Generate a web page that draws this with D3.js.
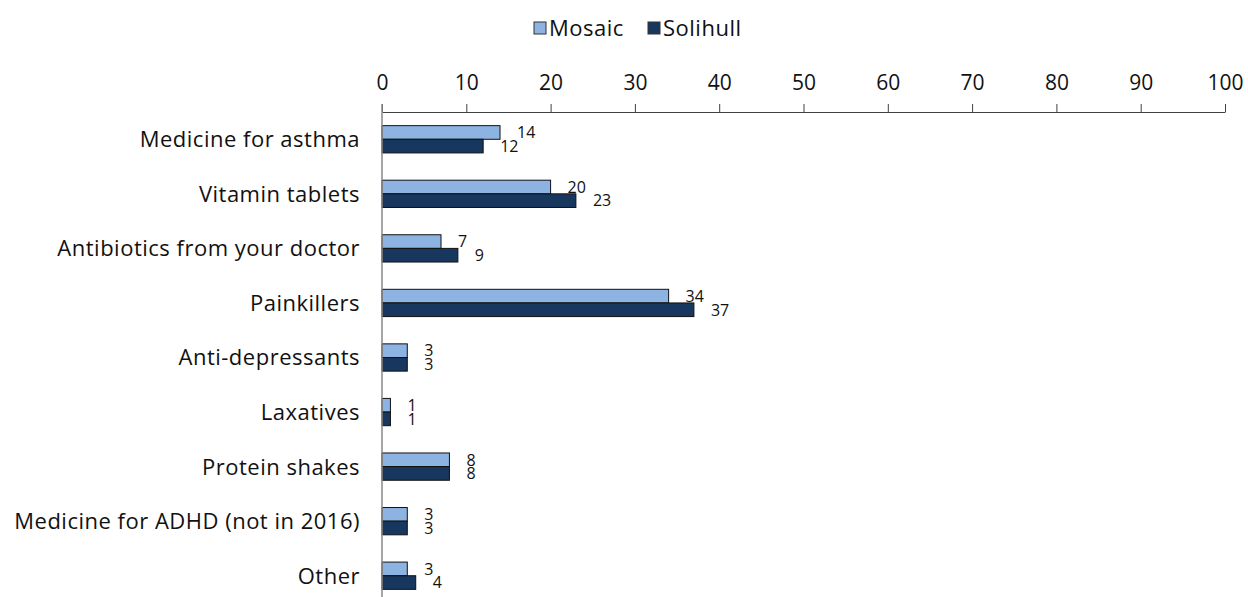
<!DOCTYPE html>
<head>
  <meta charset="utf-8">
  <title>Medicines chart</title>
  <script src="https://d3js.org/d3.v7.min.js"></script>
  <style>
  body { margin: 0; background: #fff; }
  text { font-family: "Open Sans", sans-serif; fill: #111; }
  </style>
</head>
<body>
  <script>
    // Data
    var categories = ["Medicine for asthma", "Vitamin tablets", "Antibiotics from your doctor",
      "Painkillers", "Anti-depressants", "Laxatives", "Protein shakes",
      "Medicine for ADHD (not in 2016)", "Other"];
    var mosaic = [14, 20, 7, 34, 3, 1, 8, 3, 3];
    var solihull = [12, 23, 9, 37, 3, 1, 8, 3, 4];
    var seriesNames = ["Mosaic", "Solihull"];
    var tickValues = [0, 10, 20, 30, 40, 50, 60, 70, 80, 90, 100];

    var colors = ["#8db3e2", "#17375e"];

    var width = 1248, height = 597;
    var svg = d3.select("body").append("svg")
      .attr("width", width)
      .attr("height", height);

    var x = d3.scaleLinear().domain([0, 100]).range([382, 1225]);
    var y = d3.scaleBand().domain(categories).range([112, 603])
      .paddingInner(0.5).paddingOuter(0.25);
    var sub = d3.scaleBand().domain(seriesNames).range([0, y.bandwidth()]);

    var rows = categories.map(function(c, i) {
      return { cat: c, values: [mosaic[i], solihull[i]] };
    });

    // Bars
    var g = svg.selectAll(".row").data(rows).enter().append("g")
      .attr("transform", function(d) { return "translate(0," + y(d.cat) + ")"; });

    g.selectAll("rect")
      .data(function(d) { return d.values.map(function(v, k) { return { v: v, k: k }; }); })
      .enter().append("rect")
      .attr("x", x(0))
      .attr("y", function(d) { return sub(seriesNames[d.k]); })
      .attr("width", function(d) { return x(d.v) - x(0); })
      .attr("height", sub.bandwidth())
      .attr("fill", function(d) { return colors[d.k]; })
      .attr("stroke", "#111")
      .attr("stroke-width", 1);

    // Value labels
    g.selectAll(".val")
      .data(function(d) { return d.values.map(function(v, k) { return { v: v, k: k }; }); })
      .enter().append("text")
      .attr("x", function(d) { return x(d.v) + 17; })
      .attr("y", function(d) { return sub(seriesNames[d.k]) + sub.bandwidth() / 2; })
      .attr("dy", "0.36em")
      .style("font-size", "16px")
      .text(function(d) { return d.v; });

    // Category labels
    svg.selectAll(".cat").data(categories).enter().append("text")
      .attr("x", 360)
      .attr("y", function(d) { return y(d) + y.bandwidth() / 2; })
      .attr("dy", "0.36em")
      .attr("text-anchor", "end")
      .style("font-size", "22px")
      .style("letter-spacing", "0.5px")
      .text(function(d) { return d; });

    // Top axis
    var axis = svg.append("g")
      .attr("transform", "translate(0,112)")
      .call(d3.axisTop(x).tickValues(tickValues).tickSize(8).tickPadding(14).tickSizeOuter(0));
    axis.select(".domain").attr("stroke", "#404040");
    axis.selectAll(".tick line").attr("stroke", "#404040");
    axis.selectAll(".tick text")
      .style("font-size", "21px")
      .style("font-family", "'Open Sans', sans-serif")
      .attr("fill", "#111");

    // Vertical axis line
    svg.append("line")
      .attr("x1", x(0)).attr("x2", x(0))
      .attr("y1", 104).attr("y2", height)
      .attr("stroke", "#888").attr("stroke-width", 1.5);

    // Legend
    var legendX = [534, 648];
    var legend = svg.selectAll(".legend").data(seriesNames).enter().append("g")
      .attr("transform", function(d, i) { return "translate(" + legendX[i] + ",22)"; });
    legend.append("rect")
      .attr("width", 12).attr("height", 12)
      .attr("fill", function(d, i) { return colors[i]; })
      .attr("stroke", "#333");
    legend.append("text")
      .attr("x", 15).attr("y", 6)
      .attr("dy", "0.36em")
      .style("font-size", "22px")
      .style("letter-spacing", "0.5px")
      .text(function(d) { return d; });
  </script>
</body>
</html>
